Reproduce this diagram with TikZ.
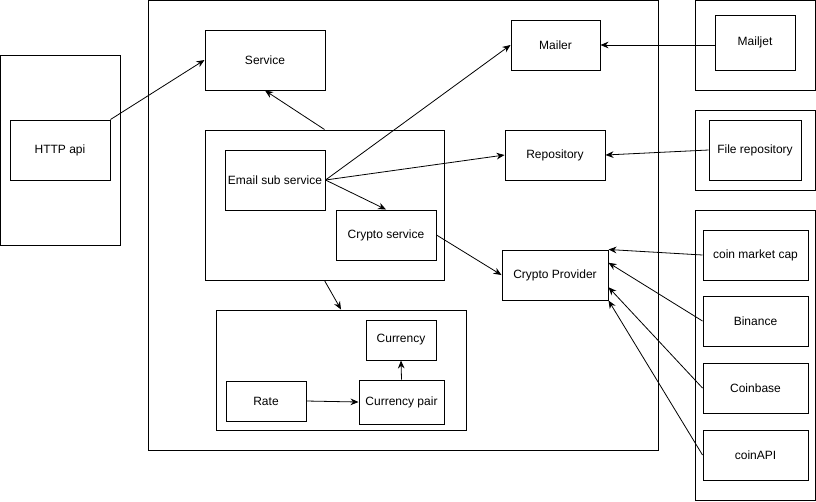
\documentclass[tikz,border=0pt]{standalone}
\usepackage{fontspec}
\setmainfont{Liberation Sans}
\usetikzlibrary{arrows.meta,calc}

\begin{document}
\begin{tikzpicture}[x=0.75pt,y=-0.75pt]
\tikzset{bloc/.style={draw, rectangle, inner sep=0pt, line width=0.75pt, font=\fontsize{9}{11}\selectfont},
  fleche/.style={-{Stealth[length=6pt,width=5pt]}, line width=0.6pt}}
\useasboundingbox (0,0) rectangle (816,501);
% conteneurs
\node[bloc, minimum width=90pt, minimum height=142.5pt] (gauche) at (60,150) {};
\node[bloc, minimum width=382.5pt, minimum height=337.5pt] (coeur) at (403,225) {};
\node[bloc, minimum width=90pt, minimum height=67.5pt] (droite1) at (755,45) {};
\node[bloc, minimum width=90pt, minimum height=60pt] (droite2) at (755,150) {};
\node[bloc, minimum width=90pt, minimum height=217.5pt] (droite3) at (755,355) {};
\node[bloc, minimum width=179.25pt, minimum height=112.5pt] (email) at (324.5,205) {};
\node[bloc, minimum width=187.5pt, minimum height=90pt] (modele) at (341,370) {};
% blocs
\node[bloc, minimum width=75pt, minimum height=45pt] (http) at (60,150) {HTTP api};
\node[bloc, minimum width=90pt, minimum height=45pt] (service) at (265,60) {Service};
\node[bloc, minimum width=75pt, minimum height=45pt] (emailsub) at (275,180) {Email sub service};
\node[bloc, minimum width=75pt, minimum height=37.5pt] (cservice) at (386,235) {Crypto service};
\node[bloc, minimum width=52.5pt, minimum height=30pt] (currency) at (401,340) {Currency};
\node[bloc, minimum width=60pt, minimum height=30pt] (rate) at (266,401) {Rate};
\node[bloc, minimum width=63.75pt, minimum height=33pt] (pair) at (401.5,402) {Currency pair};
\node[bloc, minimum width=66.75pt, minimum height=37.5pt] (mailer) at (555.5,45) {Mailer};
\node[bloc, minimum width=75pt, minimum height=37.5pt] (repo) at (555,155) {Repository};
\node[bloc, minimum width=79.5pt, minimum height=37.5pt] (cprov) at (555,275) {Crypto Provider};
\node[bloc, minimum width=60pt, minimum height=41.25pt] (mailjet) at (755,42.5) {Mailjet};
\node[bloc, minimum width=69pt, minimum height=45pt] (filerepo) at (755,150) {File repository};
\node[bloc, minimum width=78.75pt, minimum height=37.5pt] (cmc) at (755.5,255) {coin market cap};
\node[bloc, minimum width=78.75pt, minimum height=37.5pt] (binance) at (755.5,321) {Binance};
\node[bloc, minimum width=78.75pt, minimum height=37.5pt] (coinbase) at (755.5,388) {Coinbase};
\node[bloc, minimum width=78.75pt, minimum height=37.5pt] (coinapi) at (755.5,455) {coinAPI};
% liens
\draw[fleche] (http.north east) -- (service.west);
\draw[fleche] (email.north) -- (service.south);
\draw[fleche] (emailsub.east) -- (mailer.west);
\draw[fleche] (emailsub.east) -- (repo.west);
\draw[fleche] (emailsub.east) -- (cservice.north);
\draw[fleche] (cservice.east) -- (cprov.west);
\draw[fleche] (email.south) -- (modele.north);
\draw[fleche] (pair.north) -- (currency.south);
\draw[fleche] (rate.east) -- (pair.west);
\draw[fleche] (mailjet.west |- mailer.east) -- (mailer.east);
\draw[fleche] (filerepo.west) -- (repo.east);
\draw[fleche] (cmc.west) -- (cprov.north east);
\draw[fleche] (binance.west) -- ($(cprov.north east)!0.26!(cprov.south east)$);
\draw[fleche] (coinbase.west) -- ($(cprov.north east)!0.74!(cprov.south east)$);
\draw[fleche] (coinapi.west) -- (cprov.south east);
\end{tikzpicture}
\end{document}
